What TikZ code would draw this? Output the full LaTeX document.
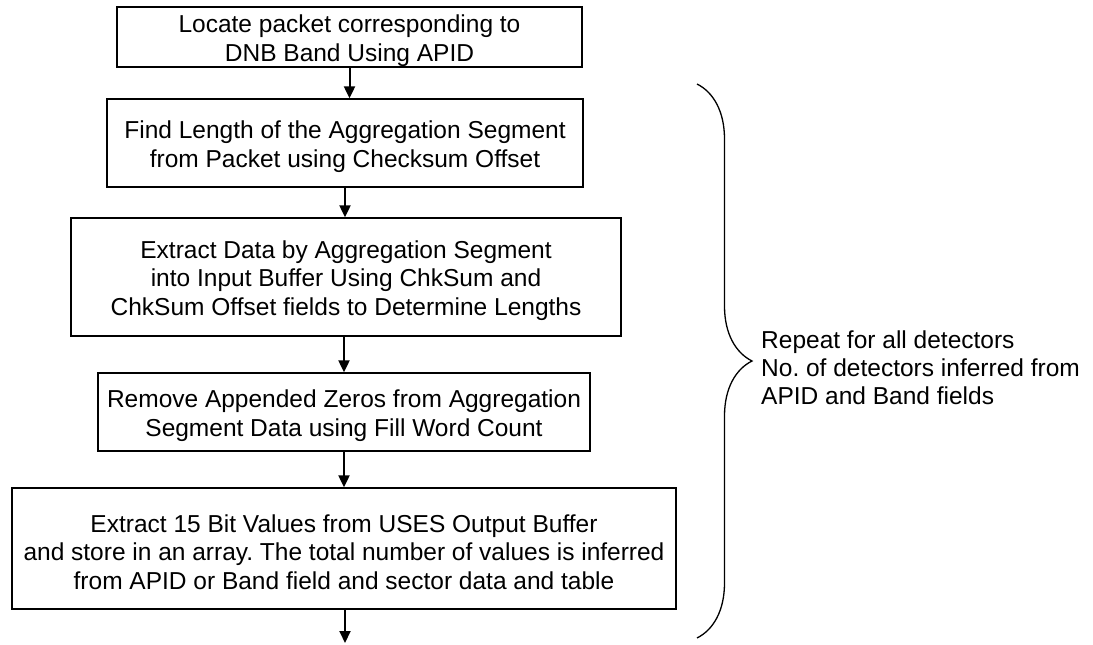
\documentclass[tikz,border=0pt]{standalone}
\usepackage{fontspec}
\setmainfont{Liberation Sans}
\frenchspacing
\usetikzlibrary{arrows.meta, decorations.pathreplacing}
\newcommand{\topstrut}{\rule{0pt}{25pt}}

\begin{document}
\begin{tikzpicture}[x=1pt, y=-1pt,
  box/.style={draw, line width=1.3pt, align=center, inner sep=0pt,
    font=\fontsize{24.5}{28.5}\selectfont},
  flow/.style={-{Triangle[length=12pt, width=11pt]}, line width=2pt}]
  % 処理の流れ図
  \useasboundingbox (0,0) rectangle (1093,645);

  \node[box, minimum width=465pt, minimum height=60pt] (locate) at (349.5,37)
    {\topstrut Locate packet corresponding to\\DNB Band Using APID};
  \node[box, minimum width=476pt, minimum height=88pt] (seglen) at (345,143)
    {\topstrut Find Length of the Aggregation Segment\\from Packet using Checksum Offset};
  \node[box, minimum width=550pt, minimum height=118pt] (extract) at (346,277)
    {\topstrut Extract Data by Aggregation Segment\\into Input Buffer Using ChkSum and\\ChkSum Offset fields to Determine Lengths};
  \node[box, minimum width=492pt, minimum height=78pt] (zeros) at (344,412)
    {\topstrut Remove Appended Zeros from Aggregation\\Segment Data using Fill Word Count};
  \node[box, minimum width=664pt, minimum height=121pt] (values) at (344,548.5)
    {\topstrut Extract 15 Bit Values from USES Output Buffer\\and store in an array. The total number of values is inferred\\from APID or Band field and sector data and table};
  \coordinate (out) at (345,643);

  \draw[flow] (locate.south) -- (locate.south |- seglen.north);
  \draw[flow] (seglen.south) -- (seglen.south |- extract.north);
  \draw[flow] (extract.south -| zeros.north) -- (zeros.north);
  \draw[flow] (zeros.south) -- (zeros.south |- values.north);
  \draw[flow] (values.south -| out) -- (out);

  \coordinate (bracetop) at (697,84);
  \coordinate (bracebot) at (697,638);
  \draw[line width=1.3pt, decorate, decoration={brace, amplitude=55pt}] (bracetop) -- (bracebot);
  \node[anchor=west, align=left, inner sep=0pt, font=\fontsize{24.5}{28}\selectfont] (repeat) at (761,368)
    {Repeat for all detectors\\No. of detectors inferred from\\APID and Band fields};
\end{tikzpicture}
\end{document}
